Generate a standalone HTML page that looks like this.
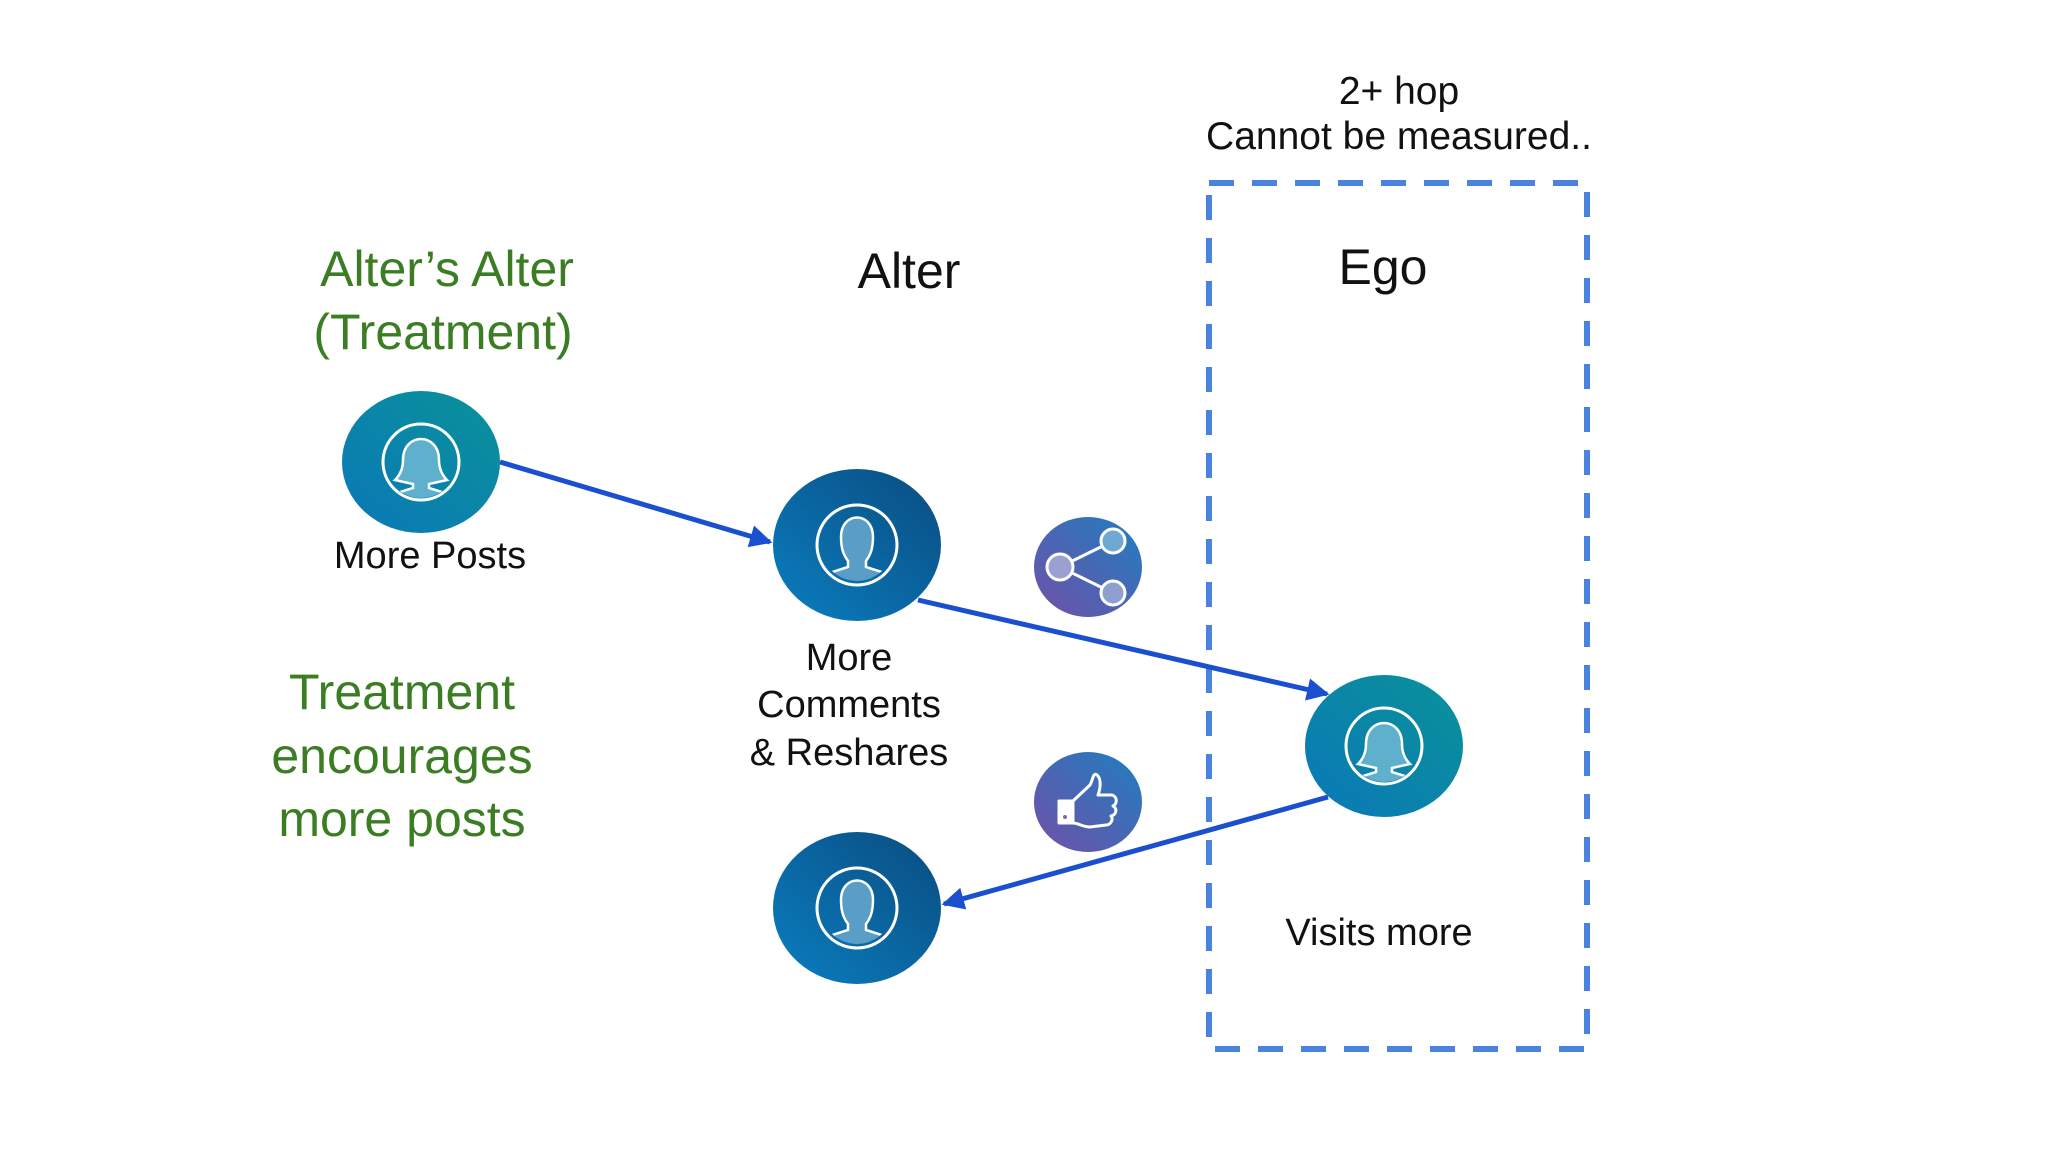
<!DOCTYPE html>
<html><head><meta charset="utf-8"><style>
html,body{margin:0;padding:0;background:#fff;}
svg{display:block;}
text{font-family:"Liberation Sans",sans-serif;}
</style></head><body>
<svg width="2048" height="1152" viewBox="0 0 2048 1152" xmlns="http://www.w3.org/2000/svg">
<defs>
<linearGradient id="fem" x1="0" y1="1" x2="1" y2="0"><stop offset="0" stop-color="#0a78b8"/><stop offset="1" stop-color="#0a9298"/></linearGradient>
<linearGradient id="mal" x1="0" y1="1" x2="1" y2="0"><stop offset="0" stop-color="#0a7ec0"/><stop offset="1" stop-color="#0a4c80"/></linearGradient>
<linearGradient id="ico" x1="0" y1="1" x2="1" y2="0"><stop offset="0" stop-color="#7050a8"/><stop offset="1" stop-color="#1f7ec0"/></linearGradient>
<marker id="ah" markerWidth="4.5" markerHeight="4.5" refX="4" refY="2.25" orient="auto" markerUnits="strokeWidth"><path d="M0,0 L4.5,2.25 L0,4.5 Z" fill="#1a4fd0"/></marker>
<clipPath id="c1"><circle cx="0" cy="0" r="36"/></clipPath>
<g id="female">
  <g clip-path="url(#c1)">
    <path d="M-18,-2 C-18,-30 18,-30 18,-2 C18,8 22,14 26,18 L8,22 L8,26 L40,36 L40,50 L-40,50 L-40,36 L-8,26 L-8,22 L-26,18 C-22,14 -18,8 -18,-2 Z" fill="#5fb0cc" stroke="#fff" stroke-width="2.5"/>
  </g>
  <circle cx="0" cy="0" r="38" fill="none" stroke="#fff" stroke-width="3"/>
</g>
<g id="male">
  <g clip-path="url(#c1)">
    <path d="M-16,-8 C-16,-34 16,-34 16,-8 C16,6 12,12 9,16 L9,22 L40,32 L40,50 L-40,50 L-40,32 L-9,22 L-9,16 C-12,12 -16,6 -16,-8 Z" fill="#5a9ec8" stroke="#fff" stroke-width="2.5"/>
  </g>
  <circle cx="0" cy="0" r="40" fill="none" stroke="#fff" stroke-width="3"/>
</g>
</defs>

<rect x="1209" y="183" width="378" height="866" fill="none" stroke="#4a82e0" stroke-width="6" stroke-dasharray="25,18"/>

<line x1="500" y1="462" x2="770" y2="542" stroke="#1a4fd0" stroke-width="5" marker-end="url(#ah)"/>
<line x1="918" y1="600" x2="1327" y2="694" stroke="#1a4fd0" stroke-width="5" marker-end="url(#ah)"/>
<line x1="1328" y1="797" x2="944" y2="904" stroke="#1a4fd0" stroke-width="5" marker-end="url(#ah)"/>

<ellipse cx="421" cy="462" rx="79" ry="71" fill="url(#fem)"/>
<use href="#female" transform="translate(421,462)"/>
<ellipse cx="857" cy="545" rx="84" ry="76" fill="url(#mal)"/>
<use href="#male" transform="translate(857,545)"/>
<ellipse cx="857" cy="908" rx="84" ry="76" fill="url(#mal)"/>
<use href="#male" transform="translate(857,908)"/>
<ellipse cx="1384" cy="746" rx="79" ry="71" fill="url(#fem)"/>
<use href="#female" transform="translate(1384,746)"/>

<ellipse cx="1088" cy="567" rx="54" ry="50" fill="url(#ico)"/>
<g stroke="#fff" stroke-width="3">
<line x1="1060" y1="567" x2="1113" y2="541"/>
<line x1="1060" y1="567" x2="1113" y2="593"/>
<circle cx="1060" cy="567" r="13" fill="#9aa0d0"/>
<circle cx="1113" cy="541" r="12" fill="#6fa8d4"/>
<circle cx="1113" cy="593" r="12" fill="#8fa0d0"/>
</g>

<ellipse cx="1088" cy="802" rx="54" ry="50" fill="url(#ico)"/>
<g fill="none" stroke="#fff" stroke-width="3" stroke-linejoin="round">
<rect x="1059" y="801" width="14" height="22" fill="#fff"/>
<path d="M1073,801 L1090,785 C1093,780 1093,772 1097,775 C1102,779 1100,790 1098,795 L1112,795 C1118,797 1117,804 1113,806 C1118,809 1116,815 1111,816 C1114,820 1110,825 1106,825 L1090,827 C1083,827 1078,823 1073,823"/>
</g>
<circle cx="1065" cy="817" r="2" fill="#7a6ab0"/>

<g font-size="39" fill="#111" text-anchor="middle">
<text x="1399" y="104">2+ hop</text>
<text x="1399" y="149">Cannot be measured..</text>
</g>
<g font-size="50" fill="#3a7d22" text-anchor="middle">
<text x="447" y="286">Alter’s Alter</text>
<text x="443" y="349">(Treatment)</text>
<text x="402" y="709">Treatment</text>
<text x="402" y="773">encourages</text>
<text x="402" y="836">more posts</text>
</g>
<g font-size="50" fill="#111" text-anchor="middle">
<text x="909" y="288">Alter</text>
<text x="1383" y="284">Ego</text>
</g>
<g font-size="38" fill="#111" text-anchor="middle">
<text x="430" y="568">More Posts</text>
<text x="849" y="670">More</text>
<text x="849" y="717">Comments</text>
<text x="849" y="765">&amp; Reshares</text>
<text x="1379" y="945">Visits more</text>
</g>
</svg>
</body></html>
